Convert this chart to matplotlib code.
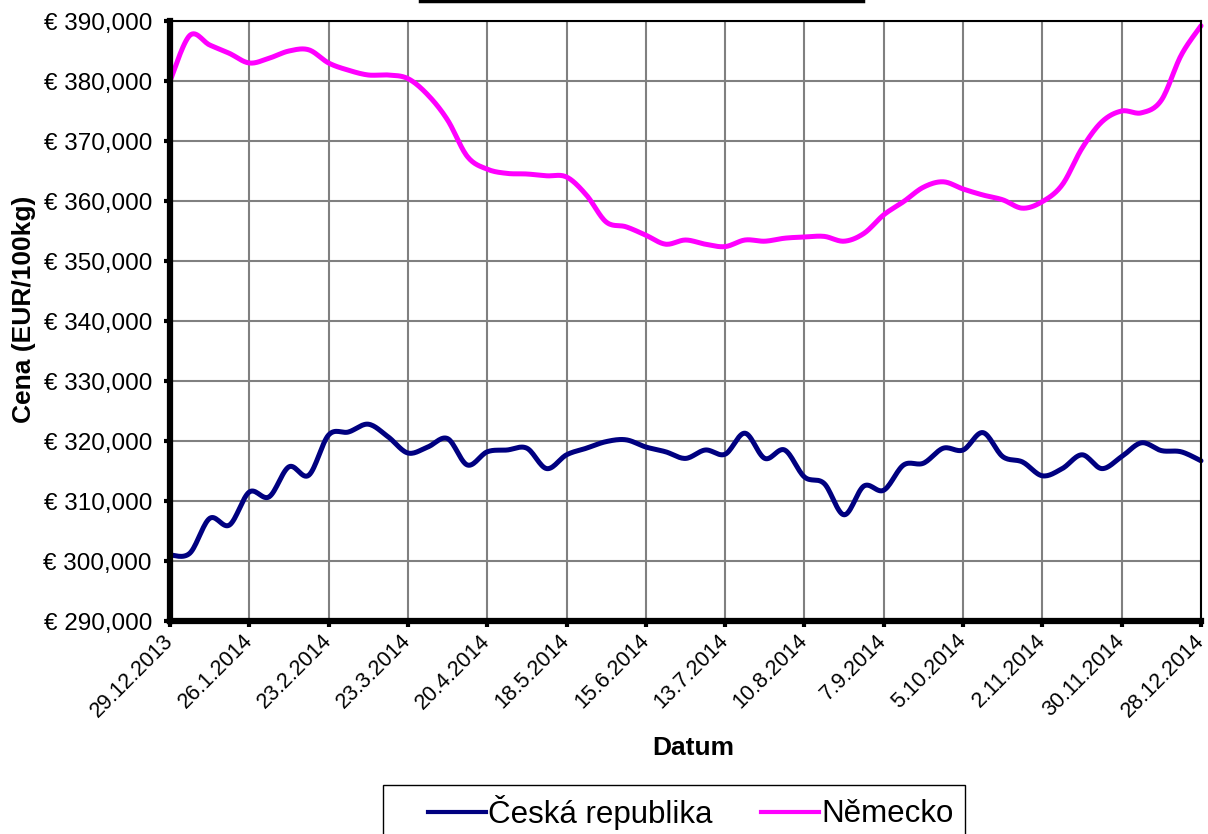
import matplotlib
matplotlib.use("Agg")
import matplotlib.pyplot as plt
import numpy as np
import pandas as pd
from matplotlib.lines import Line2D
from matplotlib.patches import Rectangle
from matplotlib.transforms import ScaledTranslation
from matplotlib.ticker import FuncFormatter, MultipleLocator

plt.rcParams['font.family'] = ['Liberation Sans', 'DejaVu Sans']

# weekly prices, EUR/100kg
weeks = pd.date_range('2013-12-29', periods=53, freq='7D')
cz = [301000, 301300, 307100, 306000, 311500, 310700, 315700, 314300, 321000,
      321500, 322800, 320700, 318000, 319000, 320400, 316000, 318200, 318500,
      318800, 315400, 317700, 318800, 319900, 320200, 319000, 318200, 317100,
      318500, 317800, 321300, 317100, 318500, 314000, 312900, 307700, 312500,
      311800, 316000, 316300, 318800, 318500, 321400, 317400, 316500, 314200,
      315400, 317700, 315400, 317400, 319700, 318400, 318200, 316700]
de = [380000, 387600, 386000, 384600, 383000, 383800, 385000, 385200, 383000,
      381800, 381000, 381000, 380400, 377700, 373500, 367400, 365300, 364600,
      364500, 364200, 364000, 361000, 356500, 355700, 354300, 352800, 353500,
      352800, 352400, 353500, 353300, 353800, 354000, 354100, 353300, 354600,
      357700, 359900, 362300, 363200, 362000, 361000, 360200, 358800, 359900,
      362700, 368800, 373200, 375000, 374700, 376800, 384300, 389200]
series = [("Česká republika", cz, "#000080"), ("Německo", de, "#FF00FF")]

W, H = 1208, 834


def smooth(y, steps=16):
    """Excel-like smoothed line (Catmull-Rom as Bezier)"""
    y = np.asarray(y, dtype=float)
    x = np.arange(len(y), dtype=float)
    p = np.column_stack([x, y])
    pp = np.vstack([p[0], p, p[-1]])
    t = np.linspace(0, 1, steps, endpoint=False)[:, None]
    out = []
    for i in range(len(p) - 1):
        p0, p1, p2, p3 = pp[i], pp[i + 1], pp[i + 2], pp[i + 3]
        c1 = p1 + (p2 - p0) / 6
        c2 = p2 - (p3 - p1) / 6
        seg = ((1 - t) ** 3 * p1 + 3 * (1 - t) ** 2 * t * c1
               + 3 * (1 - t) * t ** 2 * c2 + t ** 3 * p2)
        out.append(seg)
    out.append(p[-1][None, :])
    out = np.vstack(out)
    return out[:, 0], out[:, 1]


fig = plt.figure(figsize=(W / 100, H / 100), dpi=100)
ax = fig.add_axes([170 / W, 1 - 621 / H, 1031 / W, 600 / H])

for name, vals, col in series:
    sx, sy = smooth(vals)
    ax.plot(sx, sy, color=col, lw=3.6, solid_capstyle='round', zorder=3,
            clip_on=False)

ax.set_xlim(0, len(weeks) - 1)
ax.set_ylim(290000, 390000)
ax.yaxis.set_major_locator(MultipleLocator(10000))
ax.yaxis.set_major_formatter(FuncFormatter(lambda v, _: f"€ {v:,.0f}"))
ticks = list(range(0, len(weeks), 4))
ax.set_xticks(ticks)
ax.set_xticklabels([f"{weeks[i].day}.{weeks[i].month}.{weeks[i].year}"
                    for i in ticks], rotation=45, ha='right', va='center',
                   rotation_mode='anchor')
shift = ScaledTranslation(4 / 100, 0, fig.dpi_scale_trans)
for lbl in ax.get_xticklabels():
    lbl.set_transform(lbl.get_transform() + shift)

ax.grid(True, color='#808080', lw=1.5, zorder=1)
ax.set_axisbelow(True)
ax.spines['left'].set_linewidth(4.5)
ax.spines['bottom'].set_linewidth(4.5)
ax.spines['top'].set_linewidth(1.5)
ax.spines['right'].set_linewidth(1.5)
for s in ax.spines.values():
    s.set_color('black')
    s.set_zorder(4)

ax.tick_params(axis='y', direction='out', length=4, width=3, pad=9,
               labelsize=17.5)
ax.tick_params(axis='x', direction='out', length=4, width=3, pad=8,
               labelsize=15.5)

ax.set_ylabel("Cena (EUR/100kg)", fontsize=19, fontweight='bold', va='center')
ax.yaxis.set_label_coords((24 - 170) / 1031, 0.52)
ax.set_xlabel("Datum", fontsize=19, fontweight='bold', va='center')
ax.xaxis.set_label_coords((693 - 170) / 1031, (621 - 748) / 600)

# bottom edge of the cropped title box
fig.add_artist(Line2D([420 / W, 863 / W], [1 - 1 / H] * 2,
                      color='black', lw=2.5, transform=fig.transFigure))

# legend box (bottom edge falls outside the picture)
fig.add_artist(Rectangle((383 / W, 1 - 845 / H), 582 / W, 60 / H,
                         transform=fig.transFigure, facecolor='white',
                         edgecolor='black', lw=1.0, zorder=5))
handles = [Line2D([], [], color=c, lw=3) for _, _, c in series]
leg = fig.legend(handles, [n for n, _, _ in series], loc='center left',
                 bbox_to_anchor=(428 / W, 1 - 812 / H), ncol=2,
                 fontsize=22.5, frameon=False, handlelength=1.85,
                 handletextpad=0.07, columnspacing=1.55, borderpad=0,
                 borderaxespad=0)
leg.set_zorder(6)

fig.savefig("out.png", dpi=100)
